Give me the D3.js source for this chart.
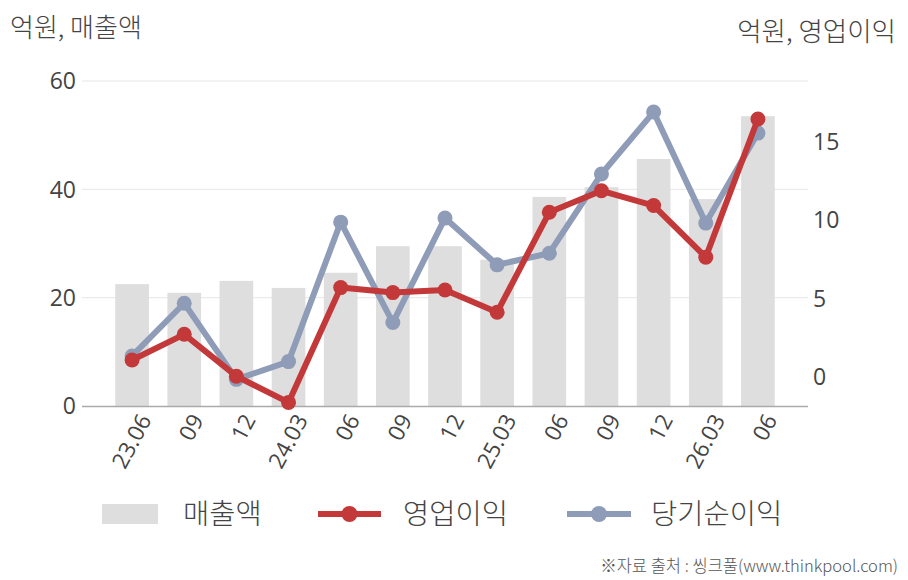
<!DOCTYPE html>
<html>
<head>
<meta charset="utf-8">
<script src="https://cdn.jsdelivr.net/npm/d3@7"></script>
<style>
  body { margin: 0; background: #fff; }
  svg text { font-family: "Noto Sans CJK KR", "Noto Sans", sans-serif; }
  svg text.num { font-family: "Open Sans", "Noto Sans", sans-serif; }
</style>
</head>
<body>
<div id="main"></div>
<script>
const periods = ['23.06', '09', '12', '24.03', '06', '09', '12', '25.03', '06', '09', '12', '26.03', '06']
const sales = [22.5, 20.9, 23.1, 21.8, 24.6, 29.5, 29.5, 27.0, 38.6, 40.4, 45.6, 38.2, 53.5]
const opProfit = [1.08, 2.72, 0.05, -1.62, 5.7, 5.38, 5.55, 4.13, 10.5, 11.87, 10.93, 7.64, 16.45]
const netProfit = [1.34, 4.7, -0.15, 0.98, 9.87, 3.47, 10.13, 7.15, 7.89, 12.94, 16.89, 9.81, 15.55]
const leftTicks = [0, 20, 40, 60]
const rightTicks = [0, 5, 10, 15]

const width = 908
const height = 580
const plot = { left: 82, right: 808, top: 81, bottom: 406 }
const RED = '#c3393a'
const BLUE = '#8f9cb8'
const TEXT = '#444'

const svg = d3.select('#main')
    .append('svg')
    .attr('width', width)
    .attr('height', height)

const x = d3.scaleBand()
    .domain(d3.range(periods.length))
    .range([106, 784])
    .paddingInner(0.354)
    .paddingOuter(0.177)

const yL = d3.scaleLinear().domain([0, 60]).range([plot.bottom, plot.top])
const yR = d3.scaleLinear().domain([-1.85, 18.87]).range([plot.bottom, plot.top])

// gridlines (left axis)
svg.append('g')
    .selectAll('line')
    .data(leftTicks.slice(1))
    .enter()
    .append('line')
    .attr('x1', plot.left)
    .attr('x2', plot.right)
    .attr('y1', d => yL(d))
    .attr('y2', d => yL(d))
    .style('stroke', '#e6e6e6')
    .style('stroke-width', 1)

// bars
svg.append('g')
    .selectAll('rect')
    .data(sales)
    .enter()
    .append('rect')
    .attr('x', (d, i) => x(i))
    .attr('width', x.bandwidth())
    .attr('y', d => yL(d))
    .attr('height', d => yL(0) - yL(d))
    .style('fill', '#dedede')

// baseline
svg.append('line')
    .attr('x1', plot.left)
    .attr('x2', plot.right)
    .attr('y1', plot.bottom + 0.5)
    .attr('y2', plot.bottom + 0.5)
    .style('stroke', '#aaa')
    .style('stroke-width', 1.3)

// left tick labels
svg.append('g')
    .selectAll('text')
    .data(leftTicks)
    .enter()
    .append('text')
    .attr('class', 'num')
    .attr('x', 76)
    .attr('y', d => yL(d))
    .attr('dy', '0.36em')
    .attr('text-anchor', 'end')
    .style('font-size', '23px')
    .style('fill', TEXT)
    .text(d => d)

// right tick labels
svg.append('g')
    .selectAll('text')
    .data(rightTicks)
    .enter()
    .append('text')
    .attr('class', 'num')
    .attr('x', 813)
    .attr('y', d => yR(d))
    .attr('dy', '0.36em')
    .attr('text-anchor', 'start')
    .style('font-size', '23px')
    .style('fill', TEXT)
    .text(d => d)

// x labels
svg.append('g')
    .selectAll('text')
    .data(periods)
    .enter()
    .append('text')
    .attr('class', 'num')
    .attr('transform', (d, i) => 'translate(' + (x(i) + x.bandwidth() / 2 + 13) + ',' + 416 + ') rotate(-62)')
    .attr('text-anchor', 'end')
    .attr('dy', '0.35em')
    .style('font-size', '22.5px')
    .style('fill', TEXT)
    .text(d => d)

// lines
const cx = i => x(i) + x.bandwidth() / 2

function drawSeries(values, color, r) {
    const line = d3.line()
        .x((d, i) => cx(i))
        .y(d => yR(d))
    svg.append('path')
        .datum(values)
        .attr('d', line)
        .style('fill', 'none')
        .style('stroke', color)
        .style('stroke-width', 6)
        .style('stroke-linejoin', 'round')
    svg.append('g')
        .selectAll('circle')
        .data(values)
        .enter()
        .append('circle')
        .attr('cx', (d, i) => cx(i))
        .attr('cy', d => yR(d))
        .attr('r', r)
        .style('fill', color)
}

drawSeries(netProfit, BLUE, 7.5)
drawSeries(opProfit, RED, 7.5)

// axis titles
svg.append('text')
    .attr('x', 10)
    .attr('y', 37)
    .style('font-size', '26px')
    .style('font-weight', 300)
    .style('fill', TEXT)
    .text('억원, 매출액')

svg.append('text')
    .attr('x', 896)
    .attr('y', 41)
    .attr('text-anchor', 'end')
    .style('font-size', '26.5px')
    .style('font-weight', 300)
    .style('fill', TEXT)
    .text('억원, 영업이익')

// legend
const legend = svg.append('g').attr('id', 'legend')
legend.append('rect')
    .attr('x', 102)
    .attr('y', 504)
    .attr('width', 56)
    .attr('height', 20)
    .style('fill', '#dedede')

const legendLines = [
    { x1: 318, x2: 381, color: RED },
    { x1: 567, x2: 631, color: BLUE }
]
legendLines.forEach(l => {
    legend.append('line')
        .attr('x1', l.x1).attr('x2', l.x2)
        .attr('y1', 514).attr('y2', 514)
        .style('stroke', l.color)
        .style('stroke-width', 6)
    legend.append('circle')
        .attr('cx', (l.x1 + l.x2) / 2)
        .attr('cy', 514)
        .attr('r', 8)
        .style('fill', l.color)
})

const legendLabels = [
    { x: 183, text: '매출액' },
    { x: 403, text: '영업이익' },
    { x: 651, text: '당기순이익' }
]
legend.selectAll('text')
    .data(legendLabels)
    .enter()
    .append('text')
    .attr('x', d => d.x)
    .attr('y', 524)
    .style('font-size', '28.5px')
    .style('font-weight', 300)
    .style('fill', TEXT)
    .text(d => d.text)

// source
svg.append('text')
    .attr('x', 898)
    .attr('y', 572)
    .attr('text-anchor', 'end')
    .style('font-size', '16.5px')
    .style('font-weight', 300)
    .style('fill', '#555')
    .text('※자료 출처 : 씽크풀(www.thinkpool.com)')
</script>
</body>
</html>
